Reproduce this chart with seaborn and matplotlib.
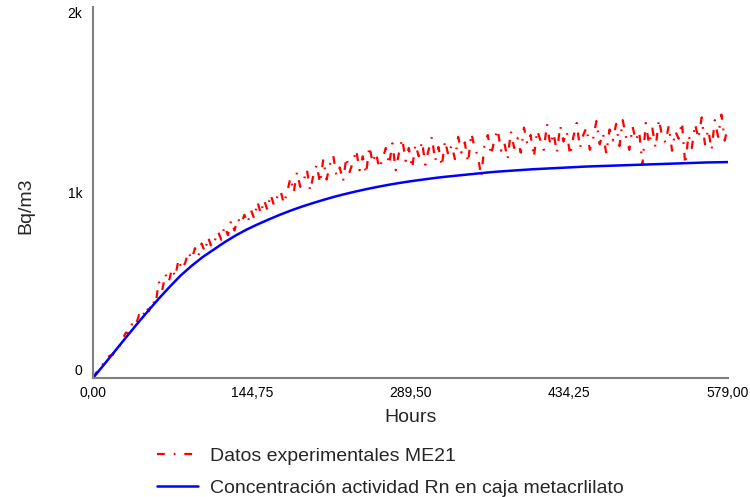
import numpy as np
import pandas as pd
import matplotlib
matplotlib.use("Agg")
import matplotlib.pyplot as plt
import seaborn as sns

# ---- data ----
red_hours = list(range(0, 579, 3)) + [579]
red_values = [
    0, 30, 38, 75, 82, 120, 125, 165, 170, 210,
    245, 240, 300, 285, 340, 320, 385, 360, 420, 395,
    520, 470, 560, 515, 590, 545, 640, 585, 620, 680,
    640, 700, 655, 725, 680, 760, 705, 740, 790, 745,
    820, 770, 850, 795, 860, 830, 880, 835, 905, 860,
    950, 885, 960, 905, 990, 930, 975, 1010, 940, 1000,
    1080, 1000, 1110, 1030, 1060, 1125, 1010, 1095, 1150, 1050,
    1180, 1070, 1150, 1200, 1090, 1135, 1060, 1190, 1110, 1165,
    1230, 1120, 1195, 1100, 1250, 1160, 1215, 1130, 1180, 1240,
    1150, 1265, 1120, 1215, 1290, 1170, 1240, 1130, 1260, 1195,
    1275, 1150, 1230, 1300, 1170, 1245, 1140, 1280, 1200, 1255,
    1180, 1300, 1215, 1270, 1160, 1320, 1240, 1195, 1085, 1260,
    1310, 1200, 1285, 1340, 1225, 1270, 1180, 1330, 1240, 1295,
    1215, 1350, 1260, 1310, 1190, 1335, 1280, 1230, 1370, 1255,
    1320, 1215, 1360, 1275, 1330, 1200, 1300, 1375, 1240, 1310,
    1350, 1230, 1290, 1385, 1260, 1320, 1210, 1340, 1280, 1370,
    1250, 1390, 1300, 1230, 1355, 1280, 1330, 1150, 1375, 1260,
    1345, 1240, 1395, 1300, 1270, 1360, 1225, 1330, 1290, 1380,
    1150, 1310, 1240, 1370, 1290, 1405, 1260, 1340, 1230, 1390,
    1300, 1420, 1280, 1360,
]
blue_hours = list(range(0, 571, 10)) + [579]
blue_values = [
    0, 72, 145, 218, 290, 360, 428, 492, 553, 605,
    652, 692, 732, 768, 800, 828, 854, 879, 902, 923,
    942, 960, 977, 992, 1006, 1019, 1031, 1042, 1052, 1061,
    1069, 1077, 1084, 1090, 1096, 1102, 1108, 1113, 1117, 1121,
    1125, 1128, 1131, 1134, 1137, 1140, 1142, 1144, 1146, 1148,
    1150, 1152, 1154, 1156, 1158, 1160, 1162, 1163, 1164,
]
x_ticks = [0, 144.75, 289.5, 434.25, 579]
x_tick_labels = ["0,00", "144,75", "289,50", "434,25", "579,00"]
y_ticks = [0, 1000, 2000]
y_tick_labels = ["0", "1k", "2k"]
red_label = "Datos experimentales ME21"
blue_label = "Concentración actividad Rn en caja metacrlilato"

red_df = pd.DataFrame({"Hours": red_hours, "Bq/m3": red_values})
blue_df = pd.DataFrame({"Hours": blue_hours, "Bq/m3": blue_values})

sns.set_theme(style="white")
plt.rcParams["font.family"] = ["Liberation Sans", "DejaVu Sans"]

fig = plt.figure(figsize=(7.5, 4.97), dpi=100)
ax = fig.add_axes([93 / 750, 1 - 378 / 497, (728 - 93) / 750, (378 - 7) / 497])

sns.lineplot(data=red_df, x="Hours", y="Bq/m3", ax=ax, color="#ff0000",
             linewidth=1.6, linestyle=(0, (3.5, 4, 0.8, 4)), label=red_label)
sns.lineplot(data=blue_df, x="Hours", y="Bq/m3", ax=ax, color="#0000ff",
             linewidth=1.8, label=blue_label)

ax.set_xlim(0, 579)
ax.set_ylim(0, 2000)
ax.set_xticks(x_ticks)
ax.set_xticklabels(x_tick_labels, fontsize=10)
ax.set_yticks(y_ticks)
ax.set_yticklabels(y_tick_labels, fontsize=10)
ax.tick_params(axis="both", length=0, colors="black")
ax.tick_params(axis="x", pad=6)
ax.tick_params(axis="y", pad=7.5)
ylabs = ax.get_yticklabels()
ylabs[0].set_va("bottom")
ylabs[-1].set_va("top")

for s in ["top", "right"]:
    ax.spines[s].set_visible(False)
for s in ["left", "bottom"]:
    ax.spines[s].set_color("#808080")
    ax.spines[s].set_linewidth(1.5)

ax.set_xlabel("Hours", fontsize=14, labelpad=6)
ax.set_ylabel("Bq/m3", fontsize=14)
ax.yaxis.set_label_coords(-0.093, 0.464)

ax.get_legend().remove()
handles, labels = ax.get_legend_handles_labels()
fig.legend(handles, labels, loc="upper left", bbox_to_anchor=(139 / 750, 1 - 430 / 497),
           frameon=False, fontsize=14, handlelength=2.15, handletextpad=0.6,
           labelspacing=0.72)

fig.savefig("out.png", dpi=100)
